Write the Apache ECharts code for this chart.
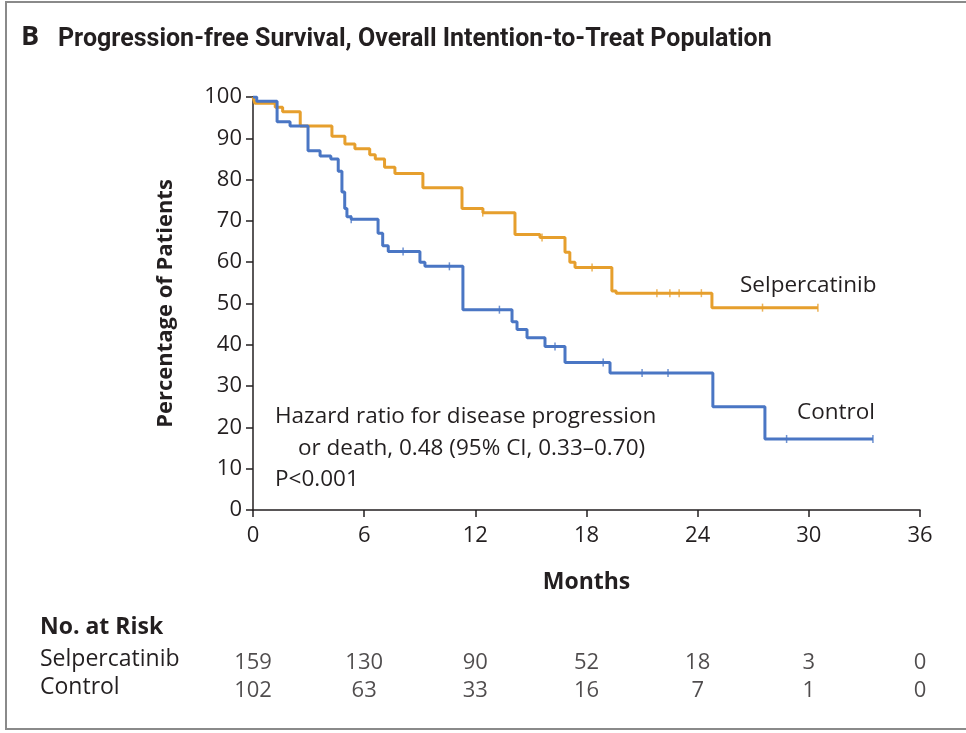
<!DOCTYPE html>
<html>
<head>
<meta charset="utf-8">
<script src="https://cdn.jsdelivr.net/npm/echarts@6/dist/echarts.min.js"></script>
<style>
html,body{margin:0;padding:0;background:#fff;}
#chart{width:966px;height:733px;}
</style>
</head>
<body>
<div id="chart"></div>
<script>
// ---- data ----
const xTicks = [0, 6, 12, 18, 24, 30, 36];
const selpCurve = [[0,100],[0.1,98.5],[1.2,97.5],[1.6,96.4],[2.55,93],[4.26,90.5],[4.96,88.6],[5.5,87.5],[6.3,86],[6.6,85],[7.1,83],[7.66,81.5],[9.17,78],[11.28,73],[12.41,72],[14.14,66.7],[15.49,66],[16.84,62.4],[17.1,60],[17.38,58.7],[19.37,53],[19.6,52.5],[24.77,49],[30.49,49]];
const ctrlCurve = [[0,100],[0.2,99],[1.3,94],[2.0,93],[2.97,87],[3.62,85.7],[4.2,85],[4.6,82],[4.8,77],[4.95,73],[5.07,71],[5.3,70.4],[6.75,67],[7.0,64],[7.3,62.6],[9.01,60],[9.28,59],[11.33,48.5],[13.98,45.6],[14.25,43.7],[14.79,41.7],[15.76,39.6],[16.84,35.7],[19.27,33.2],[24.82,25],[27.63,17.2],[33.46,17.2]];
const selpCensor = [[12.4,72],[15.6,66],[18.3,58.7],[21.8,52.5],[22.5,52.5],[23.0,52.5],[24.2,52.5],[27.5,49],[30.49,49]];
const ctrlCensor = [[5.3,70.4],[8.1,62.6],[10.6,59],[13.3,48.5],[16.3,39.6],[18.9,35.7],[21.0,33.2],[22.4,33.2],[28.8,17.2],[33.46,17.2]];
const riskRows = ['Control', 'Selpercatinib'];
const selpRisk = [159, 130, 90, 52, 18, 3, 0];
const ctrlRisk = [102, 63, 33, 16, 7, 1, 0];

const ORANGE = '#E69F2D';
const BLUE = '#4A76C4';
const TXT = '#231f20';
const FONT = '"Open Sans", "Noto Sans", sans-serif';
const NARROW = '"Liberation Sans Narrow", "Roboto", sans-serif';

const chart = echarts.init(document.getElementById('chart'), null, {renderer: 'canvas'});

const riskData = [];
selpRisk.forEach((v, i) => riskData.push([xTicks[i], 'Selpercatinib', v]));
ctrlRisk.forEach((v, i) => riskData.push([xTicks[i], 'Control', v]));

chart.setOption({
  backgroundColor: '#fff',
  animation: false,
  grid: [
    {left: 253, right: 46, top: 97, bottom: 223, containLabel: false},
    {left: 253, right: 46, top: 649, height: 56}
  ],
  xAxis: [
    {
      gridIndex: 0, type: 'value', min: 0, max: 36, interval: 6,
      name: 'Months', nameLocation: 'middle', nameGap: 61,
      nameTextStyle: {fontFamily: FONT, fontWeight: 'bold', fontSize: 23, color: TXT},
      axisLine: {show: true, lineStyle: {color: TXT, width: 1.5}},
      axisTick: {show: true, length: 7, lineStyle: {color: TXT, width: 1.5}},
      axisLabel: {fontFamily: FONT, fontSize: 22, color: TXT, margin: 15},
      splitLine: {show: false}
    },
    {gridIndex: 1, type: 'value', min: 0, max: 36, show: false}
  ],
  yAxis: [
    {
      gridIndex: 0, type: 'value', min: 0, max: 100, interval: 10,
      name: 'Percentage of Patients', nameLocation: 'middle', nameGap: 76, nameRotate: 90,
      nameTextStyle: {fontFamily: FONT, fontWeight: 'bold', fontSize: 22, color: TXT},
      axisLine: {show: true, lineStyle: {color: TXT, width: 1.5}},
      axisTick: {show: true, length: 7, lineStyle: {color: TXT, width: 1.5}},
      axisLabel: {fontFamily: FONT, fontSize: 22, color: TXT, margin: 11},
      splitLine: {show: false}
    },
    {gridIndex: 1, type: 'category', data: riskRows, show: false}
  ],
  series: [
    {
      type: 'line', step: 'end', data: selpCurve, symbol: 'none',
      lineStyle: {color: ORANGE, width: 3}, z: 3
    },
    {
      type: 'line', step: 'end', data: ctrlCurve, symbol: 'none',
      lineStyle: {color: BLUE, width: 3}, z: 4
    },
    {
      type: 'scatter', data: selpCensor, symbol: 'rect', symbolSize: [1.5, 8],
      itemStyle: {color: ORANGE}, z: 5
    },
    {
      type: 'scatter', data: ctrlCensor, symbol: 'rect', symbolSize: [1.5, 8],
      itemStyle: {color: BLUE}, z: 5
    },
    {
      type: 'scatter', xAxisIndex: 1, yAxisIndex: 1, data: riskData,
      symbolSize: 0,
      label: {
        show: true, position: 'inside', formatter: p => String(p.value[2]),
        fontFamily: FONT, fontSize: 22, color: TXT
      }
    }
  ],
  graphic: [
    {type: 'rect', shape: {x: 6, y: 2, width: 975, height: 727}, style: {fill: 'none', stroke: '#8a8a8a', lineWidth: 2}, silent: true},
    {type: 'text', left: 21, top: 24, style: {text: 'B', font: 'bold 27px ' + FONT, fill: TXT}},
    {type: 'text', left: 58, top: 27, style: {text: 'Progression-free Survival, Overall Intention-to-Treat Population', font: 'bold 25px ' + NARROW, fill: TXT}},
    {type: 'text', left: 275, top: 405, style: {text: 'Hazard ratio for disease progression', font: '22.5px ' + FONT, fill: TXT}},
    {type: 'text', left: 298, top: 437, style: {text: 'or death, 0.48 (95% CI, 0.33\u20130.70)', font: '22.5px ' + FONT, fill: TXT}},
    {type: 'text', left: 275, top: 468, style: {text: 'P<0.001', font: '22.5px ' + FONT, fill: TXT}},
    {type: 'text', left: 740, top: 274, style: {text: 'Selpercatinib', font: '22.5px ' + FONT, fill: TXT}},
    {type: 'text', left: 797, top: 401, style: {text: 'Control', font: '22.5px ' + FONT, fill: TXT}},
    {type: 'text', left: 40, top: 616, style: {text: 'No. at Risk', font: 'bold 23px ' + FONT, fill: TXT}},
    {type: 'text', left: 40, top: 648, style: {text: 'Selpercatinib', font: '23px ' + FONT, fill: TXT}},
    {type: 'text', left: 40, top: 676, style: {text: 'Control', font: '23px ' + FONT, fill: TXT}}
  ]
});
</script>
</body>
</html>
